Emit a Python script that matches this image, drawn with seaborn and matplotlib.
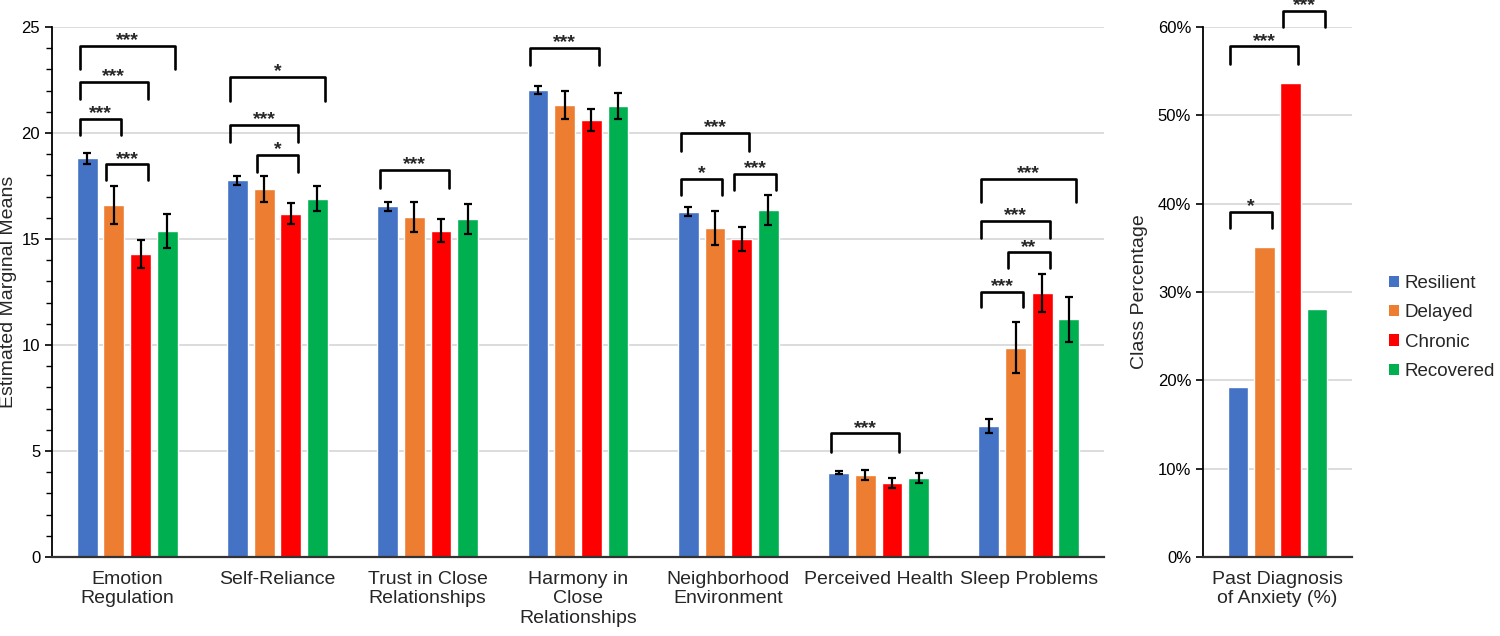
"""Estimated marginal means by trajectory class, plus past anxiety diagnosis."""

import matplotlib
matplotlib.use("Agg")
import matplotlib.pyplot as plt
from matplotlib.patches import Patch
from matplotlib.ticker import FuncFormatter, MultipleLocator
import pandas as pd
import seaborn as sns

categories = [
    "Emotion\nRegulation",
    "Self-Reliance",
    "Trust in Close\nRelationships",
    "Harmony in\nClose\nRelationships",
    "Neighborhood\nEnvironment",
    "Perceived Health",
    "Sleep Problems",
]
classes = ["Resilient", "Delayed", "Chronic", "Recovered"]

resilient_means = [18.80, 17.77, 16.54, 22.04, 16.29, 3.97, 6.20]
delayed_means = [16.60, 17.37, 16.05, 21.34, 15.52, 3.86, 9.87]
chronic_means = [14.28, 16.19, 15.39, 20.63, 15.00, 3.48, 12.44]
recovered_means = [15.36, 16.90, 15.94, 21.27, 16.35, 3.73, 11.21]

resilient_err = [0.28, 0.20, 0.20, 0.19, 0.22, 0.07, 0.33]
delayed_err = [0.90, 0.62, 0.70, 0.66, 0.78, 0.23, 1.20]
chronic_err = [0.67, 0.50, 0.55, 0.52, 0.58, 0.23, 0.90]
recovered_err = [0.80, 0.60, 0.70, 0.60, 0.71, 0.25, 1.07]

anxiety_label = "Past Diagnosis\nof Anxiety (%)"
anxiety_pct = [19.2, 35.1, 53.7, 28.1]

# significance brackets: (category, class a, class b, top, leg end, stars)
means_brackets = [
    (0, 0, 3, 24.10, 23.00, "***"),
    (0, 0, 2, 22.42, 21.60, "***"),
    (0, 0, 1, 20.65, 19.90, "***"),
    (0, 1, 2, 18.52, 17.80, "***"),
    (1, 0, 3, 22.63, 21.52, "*"),
    (1, 0, 2, 20.39, 19.56, "***"),
    (1, 1, 2, 18.96, 18.15, "*"),
    (2, 0, 2, 18.25, 17.40, "***"),
    (3, 0, 2, 24.00, 23.20, "***"),
    (4, 0, 2, 20.00, 19.15, "***"),
    (4, 0, 1, 17.83, 17.10, "*"),
    (4, 2, 3, 18.07, 17.30, "***"),
    (5, 0, 2, 5.83, 4.97, "***"),
    (6, 0, 3, 17.83, 16.73, "***"),
    (6, 0, 2, 15.86, 15.03, "***"),
    (6, 1, 2, 14.37, 13.62, "**"),
    (6, 0, 1, 12.51, 11.81, "***"),
]
anxiety_brackets = [
    (0, 0, 1, 39.1, 37.3, "*"),
    (0, 0, 2, 57.8, 55.8, "***"),
    (0, 2, 3, 61.8, 60.05, "***"),
]

palette = {"Resilient": "#4472C4", "Delayed": "#ED7D31", "Chronic": "#FF0000", "Recovered": "#00B050"}
FONT = ["Liberation Sans", "DejaVu Sans"]


def _long_frame(labels, series):
    rows = []
    for cls, values in zip(classes, series):
        for label, value in zip(labels, values):
            rows.append({"category": label, "class": cls, "value": value})
    return pd.DataFrame(rows)


def _draw_brackets(ax, specs):
    for cat, a, b, top, leg, stars in specs:
        bar_a = ax.containers[a][cat]
        bar_b = ax.containers[b][cat]
        x0 = bar_a.get_x() + bar_a.get_width() / 2 - 0.05
        x1 = bar_b.get_x() + bar_b.get_width() / 2 + 0.05
        ax.plot([x0, x0, x1, x1], [leg, top, top, leg], color="black", lw=1.9,
                solid_joinstyle="round", solid_capstyle="round", clip_on=False, zorder=4)
        ax.annotate(stars, xy=((x0 + x1) / 2, top), xytext=(0, 0.5), textcoords="offset points",
                    ha="center", va="baseline", fontsize=14, fontweight="bold",
                    annotation_clip=False)


def _style_axis(ax):
    ax.yaxis.grid(True, color="#D9D9D9", lw=1.3)
    ax.set_axisbelow(True)
    ax.spines["top"].set_visible(False)
    ax.spines["right"].set_visible(False)
    ax.spines["left"].set_linewidth(1.3)
    ax.spines["left"].set_color("black")
    ax.spines["bottom"].set_linewidth(1.6)
    ax.spines["bottom"].set_color("#333333")
    ax.tick_params(axis="x", length=0, labelsize=14, pad=10)
    ax.tick_params(axis="y", which="major", left=True, length=5, width=1.2, labelsize=12,
                   colors="black")
    ax.set_xlabel("")


sns.set_theme(style="white")
plt.rcParams["font.family"] = FONT

fig = plt.figure(figsize=(15, 6.36), dpi=100)
ax_means = fig.add_axes([0.0347, 0.1242, 0.7013, 0.8333])
ax_anx = fig.add_axes([0.802, 0.1242, 0.0993, 0.8333])

means_df = _long_frame(categories, [resilient_means, delayed_means, chronic_means, recovered_means])
sns.barplot(data=means_df, x="category", y="value", hue="class", hue_order=classes,
            order=categories, palette=palette, saturation=1, width=0.71, gap=0.22,
            errorbar=None, legend=False, ax=ax_means)

for container, errs in zip(ax_means.containers, [resilient_err, delayed_err, chronic_err, recovered_err]):
    xs = [bar.get_x() + bar.get_width() / 2 for bar in container]
    ys = [bar.get_height() for bar in container]
    ax_means.errorbar(xs, ys, yerr=errs, fmt="none", ecolor="black", elinewidth=1.6,
                      capsize=3, capthick=1.6, zorder=3)

ax_means.set_ylim(0, 25)
ax_means.set_xlim(-0.5, len(categories) - 0.5)
ax_means.yaxis.set_major_locator(MultipleLocator(5))
ax_means.yaxis.set_minor_locator(MultipleLocator(1))
ax_means.tick_params(axis="y", which="minor", left=True, length=4, width=1.0, color="black")
_style_axis(ax_means)
ax_means.set_ylabel("Estimated Marginal Means", fontsize=14)
ax_means.yaxis.set_label_coords(-0.033, 0.5)
_draw_brackets(ax_means, means_brackets)

anx_df = _long_frame([anxiety_label], [[v] for v in anxiety_pct])
sns.barplot(data=anx_df, x="category", y="value", hue="class", hue_order=classes,
            palette=palette, saturation=1, width=0.71, gap=0.22, errorbar=None,
            legend=False, ax=ax_anx)
ax_anx.set_ylim(0, 60)
ax_anx.set_xlim(-0.5, 0.5)
ax_anx.yaxis.set_major_locator(MultipleLocator(10))
ax_anx.yaxis.set_major_formatter(FuncFormatter(lambda v, _: f"{v:.0f}%"))
_style_axis(ax_anx)
ax_anx.set_ylabel("Class Percentage", fontsize=14)
ax_anx.yaxis.set_label_coords(-0.37, 0.5)
_draw_brackets(ax_anx, anxiety_brackets)

handles = [Patch(facecolor=palette[c], edgecolor="none", label=c) for c in classes]
fig.legend(handles=handles, loc="center left", bbox_to_anchor=(0.926, 0.485), frameon=False,
           fontsize=13.5, handlelength=0.55, handleheight=0.55, handletextpad=0.3,
           labelspacing=0.65, borderpad=0, borderaxespad=0)

fig.savefig("out.png", dpi=100)
